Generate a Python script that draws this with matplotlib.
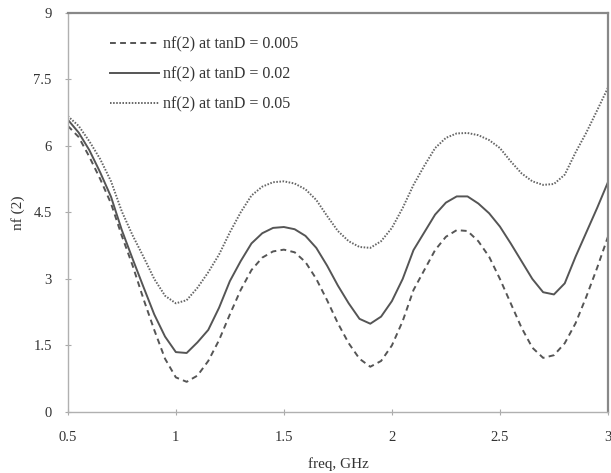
import matplotlib
matplotlib.use('Agg')
import matplotlib.pyplot as plt

# frequency grid (GHz) and curves
freq = [0.50, 0.55, 0.60, 0.65, 0.70, 0.75, 0.80, 0.85, 0.90, 0.95,
        1.00, 1.05, 1.10, 1.15, 1.20, 1.25, 1.30, 1.35, 1.40, 1.45,
        1.50, 1.55, 1.60, 1.65, 1.70, 1.75, 1.80, 1.85, 1.90, 1.95,
        2.00, 2.05, 2.10, 2.15, 2.20, 2.25, 2.30, 2.35, 2.40, 2.45,
        2.50, 2.55, 2.60, 2.65, 2.70, 2.75, 2.80, 2.85, 2.90, 2.95, 3.00]

nf_005 = [6.45, 6.20, 5.75, 5.25, 4.70, 3.97, 3.30, 2.55, 1.85, 1.20,
          0.78, 0.68, 0.82, 1.15, 1.62, 2.20, 2.75, 3.20, 3.48, 3.62,
          3.66, 3.60, 3.38, 3.00, 2.52, 2.00, 1.55, 1.20, 1.02, 1.15,
          1.50, 2.05, 2.75, 3.20, 3.65, 3.95, 4.10, 4.08, 3.85, 3.50,
          3.00, 2.45, 1.90, 1.45, 1.22, 1.28, 1.55, 2.00, 2.60, 3.25, 3.95]

nf_02 = [6.59, 6.30, 5.90, 5.40, 4.85, 4.10, 3.45, 2.82, 2.20, 1.70,
         1.35, 1.33, 1.57, 1.85, 2.35, 2.95, 3.40, 3.80, 4.03, 4.15,
         4.17, 4.12, 3.97, 3.70, 3.30, 2.85, 2.45, 2.10, 1.99, 2.15,
         2.50, 3.00, 3.65, 4.05, 4.45, 4.72, 4.86, 4.86, 4.70, 4.48,
         4.18, 3.80, 3.40, 3.00, 2.70, 2.65, 2.90, 3.50, 4.05, 4.60, 5.18]

nf_05 = [6.67, 6.45, 6.10, 5.70, 5.20, 4.52, 3.98, 3.50, 3.00, 2.62,
         2.45, 2.52, 2.80, 3.15, 3.55, 4.05, 4.50, 4.88, 5.08, 5.18,
         5.20, 5.15, 5.02, 4.78, 4.42, 4.08, 3.85, 3.72, 3.70, 3.85,
         4.15, 4.60, 5.12, 5.55, 5.95, 6.18, 6.28, 6.29, 6.24, 6.13,
         5.95, 5.65, 5.38, 5.20, 5.12, 5.14, 5.35, 5.85, 6.30, 6.80, 7.31]

x_ticks = [0.5, 1, 1.5, 2, 2.5, 3]
x_labels = ['0.5', '1', '1.5', '2', '2.5', '3']
y_ticks = [0, 1.5, 3, 4.5, 6, 7.5, 9]
y_labels = ['0', '1.5', '3', '4.5', '6', '7.5', '9']

plt.rcParams['font.family'] = ['Liberation Serif', 'DejaVu Serif']

fig = plt.figure(figsize=(6.11, 4.73), dpi=100)
ax = fig.add_axes([0.111, 0.129, 0.884, 0.844])

ax.plot(freq, nf_005, color='#555555', linewidth=1.4, dashes=(3, 2.2),
        label='nf(2) at tanD = 0.005')
ax.plot(freq, nf_02, color='#555555', linewidth=1.4,
        label='nf(2) at tanD = 0.02')
ax.plot(freq, nf_05, color='#666666', linewidth=1.4, dashes=(0.8, 0.8),
        label='nf(2) at tanD = 0.05')

ax.set_xlim(0.5, 3)
ax.set_ylim(0, 9)
ax.set_xticks(x_ticks)
ax.set_xticklabels(x_labels)
ax.set_yticks(y_ticks)
ax.set_yticklabels(y_labels)
ax.tick_params(direction='inout', length=5, width=0.8, color='#aaaaaa',
               labelsize=10.5, labelcolor='#333333')
ax.tick_params(axis='x', pad=11)
ax.tick_params(axis='y', pad=9)

for s in ['left', 'bottom']:
    ax.spines[s].set_color('#b0b0b0')
    ax.spines[s].set_linewidth(1.0)
for s in ['top', 'right']:
    ax.spines[s].set_color('#888888')
    ax.spines[s].set_linewidth(1.6)

ax.set_xlabel('freq, GHz', fontsize=11, color='#333333', labelpad=10)
ax.set_ylabel('nf (2)', fontsize=11, color='#333333', labelpad=6)

ax.legend(loc='upper left', bbox_to_anchor=(0.078, 0.94), frameon=False,
          fontsize=11.5, handlelength=3.1, handletextpad=0.2,
          labelspacing=0.86, borderpad=0, borderaxespad=0,
          labelcolor='#333333')

plt.savefig('out.png', dpi=100)
